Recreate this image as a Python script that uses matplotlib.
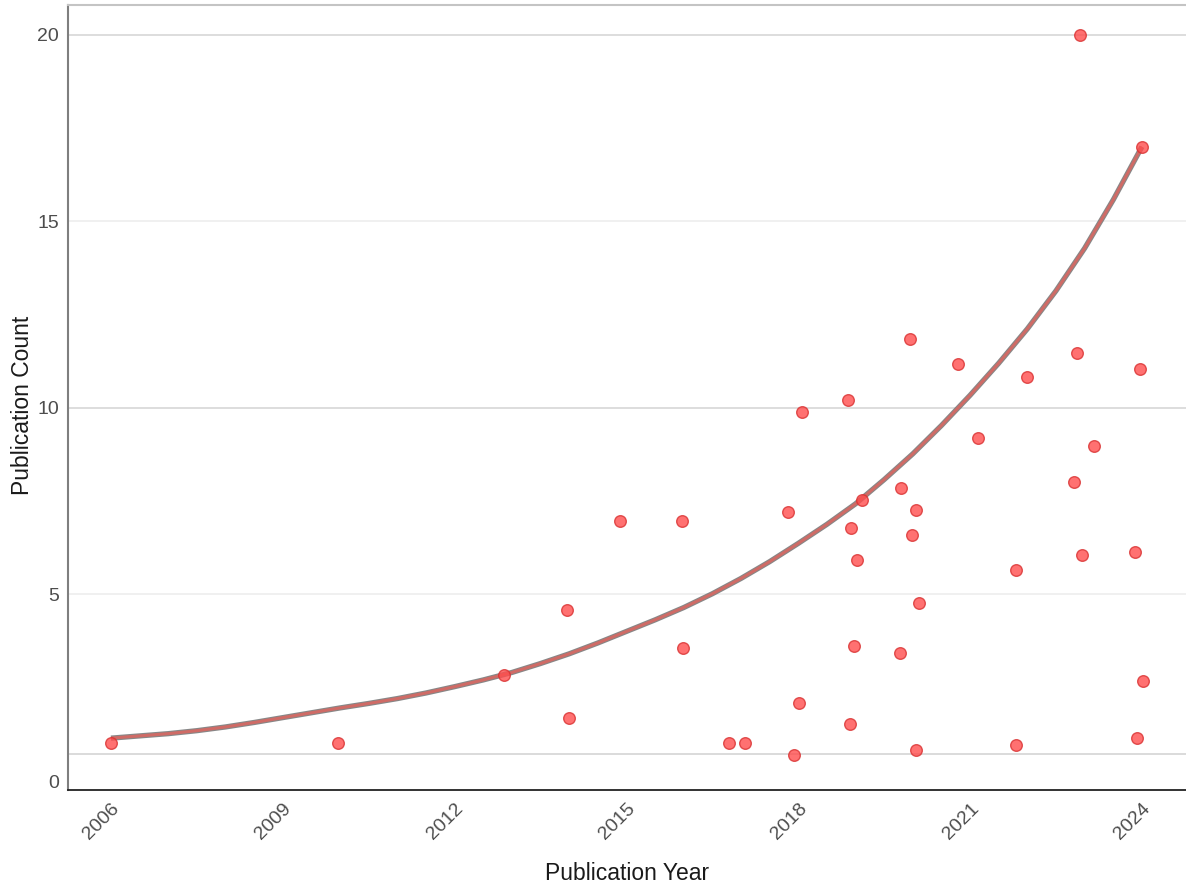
"""Publication count per year with an exponential-looking trend line."""
import matplotlib
matplotlib.use('Agg')
from matplotlib import pyplot as plt

plt.rcParams['font.family'] = ['Liberation Sans', 'DejaVu Sans']

# jittered scatter points (year, count)
years = [2006.00, 2009.96, 2012.86, 2013.96, 2014.00, 2014.89, 2015.97, 2015.99,
         2016.79, 2017.07, 2017.82, 2018.01, 2017.92, 2018.06, 2018.87, 2018.92,
         2018.90, 2018.97, 2019.02, 2019.11, 2019.79, 2019.77, 2019.95, 2019.98,
         2020.05, 2020.05, 2020.11, 2020.79, 2021.14, 2021.80, 2021.80, 2021.99,
         2022.81, 2022.86, 2022.92, 2022.95, 2023.16, 2023.88, 2023.91, 2023.96,
         2024.00, 2024.02]
counts = [1.02, 1.02, 2.84, 4.58, 1.69, 6.97, 6.97, 3.57,
          1.02, 1.02, 7.21, 2.09, 0.70, 9.89, 10.21, 6.78,
          1.53, 3.62, 5.93, 7.53, 7.86, 3.43, 11.85, 6.60,
          7.27, 0.83, 4.77, 11.18, 9.20, 5.66, 0.97, 10.83,
          8.02, 11.47, 20.00, 6.06, 8.98, 6.14, 1.15, 11.05,
          17.00, 2.68]

# trend line read every half year
trend_years = [2006.0, 2006.5, 2007.0, 2007.5, 2008.0, 2008.5, 2009.0, 2009.5,
               2010.0, 2010.5, 2011.0, 2011.5, 2012.0, 2012.5, 2013.0, 2013.5,
               2014.0, 2014.5, 2015.0, 2015.5, 2016.0, 2016.5, 2017.0, 2017.5,
               2018.0, 2018.5, 2019.0, 2019.5, 2020.0, 2020.5, 2021.0, 2021.5,
               2022.0, 2022.5, 2023.0, 2023.5, 2024.0]
trend_counts = [1.15, 1.21, 1.27, 1.35, 1.45, 1.57, 1.70, 1.83,
                1.96, 2.08, 2.21, 2.36, 2.53, 2.71, 2.91, 3.15,
                3.41, 3.70, 4.01, 4.32, 4.65, 5.02, 5.43, 5.88,
                6.37, 6.88, 7.43, 8.08, 8.77, 9.53, 10.34, 11.20,
                12.12, 13.14, 14.28, 15.58, 17.00]

x_ticks = [2006, 2009, 2012, 2015, 2018, 2021, 2024]
y_ticks = [0, 5, 10, 15, 20]

fig = plt.figure(figsize=(11.86, 8.86), dpi=100)
ax = fig.add_axes([68 / 1186, 96 / 886, 1 - 68 / 1186, (790 - 5) / 886])

# horizontal grid: darker at 10/20, faint at 5/15, plus one low line
for v, c in [(20, '#dadada'), (10, '#dadada'), (15, '#efefef'), (5, '#efefef'), (0.72, '#d8d8d8')]:
    ax.axhline(v, color=c, lw=1.3, zorder=0)

ax.plot(trend_years, trend_counts, color='#7a7a7a', lw=3.8, alpha=0.9,
        solid_joinstyle='round', solid_capstyle='butt', zorder=2)
ax.plot(trend_years, trend_counts, color='#cf6b66', lw=2.2,
        solid_joinstyle='round', solid_capstyle='butt', zorder=3)

ax.scatter(years, counts, s=70, color='#ff4d4d', alpha=0.8, edgecolors='#d93030',
           linewidths=1.0, zorder=4)

ax.set_xlim(2005.25, 2024.77)
ax.set_ylim(-0.24, 20.80)
ax.set_xticks(x_ticks)
ax.set_yticks(y_ticks)
ax.set_xticklabels([str(t) for t in x_ticks], rotation=45, ha='right', rotation_mode='anchor')
ax.tick_params(axis='both', length=0, labelsize=14, labelcolor='#4d4d4d')
ax.tick_params(axis='x', pad=7)
ax.tick_params(axis='y', pad=6.5)

ax.spines['right'].set_visible(False)
ax.spines['top'].set_color('#c4c4c4')
ax.spines['top'].set_linewidth(1.5)
ax.spines['left'].set_color('#7f7f7f')
ax.spines['left'].set_linewidth(1.5)
ax.spines['bottom'].set_color('#222222')
ax.spines['bottom'].set_linewidth(1.3)

ax.set_xlabel('Publication Year', fontsize=16.5, color='#1a1a1a')
ax.set_ylabel('Publication Count', fontsize=16.5, color='#1a1a1a')
ax.xaxis.set_label_coords(0.5, -0.092)
ax.yaxis.set_label_coords(-0.030, 0.49)

fig.savefig('out.png', dpi=100)
